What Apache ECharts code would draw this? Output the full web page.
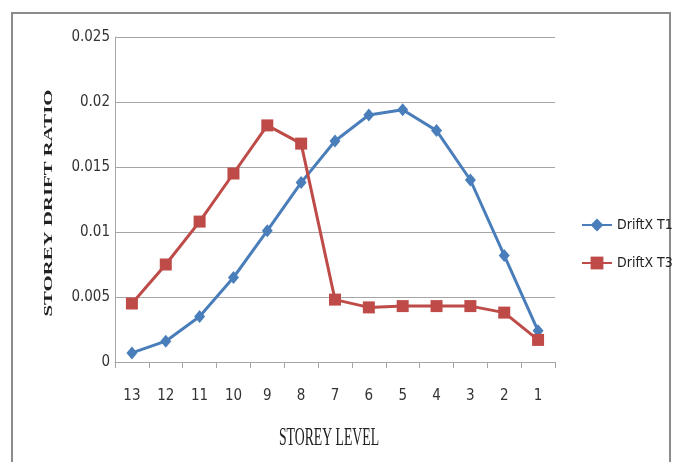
<!DOCTYPE html>
<html>
<head>
<meta charset="utf-8">
<script src="https://cdn.jsdelivr.net/npm/echarts@6/dist/echarts.min.js"></script>
<style>
  html, body { margin: 0; padding: 0; background: #fff; }
  #chart { width: 675px; height: 462px; }
</style>
</head>
<body>
<div id="chart"></div>
<script>
// Storey levels, top to bottom
const storeys = ['13', '12', '11', '10', '9', '8', '7', '6', '5', '4', '3', '2', '1'];
// Storey drift ratios per load case
const driftT1 = [0.0007, 0.0016, 0.0035, 0.0065, 0.0101, 0.0138, 0.0170, 0.0190, 0.0194, 0.0178, 0.0140, 0.0082, 0.0024];
const driftT3 = [0.0045, 0.0075, 0.0108, 0.0145, 0.0182, 0.0168, 0.0048, 0.0042, 0.0043, 0.0043, 0.0043, 0.0038, 0.0017];
const seriesNames = ['DriftX T1', 'DriftX T3'];
const xTitle = 'STOREY LEVEL';
const yTitle = 'STOREY DRIFT RATIO';

const chart = echarts.init(document.getElementById('chart'), null, { renderer: 'canvas' });
const tickFont = '"DejaVu Sans Condensed", "Liberation Sans Narrow", "Open Sans", sans-serif';
const titleFont = '"Liberation Serif", "DejaVu Serif", serif';

chart.setOption({
  animation: false,
  backgroundColor: '#ffffff',
  graphic: [
    {
      type: 'rect',
      shape: { x: 12, y: 13, width: 658, height: 470 },
      style: { fill: 'none', stroke: '#8c8c8c', lineWidth: 2 },
      silent: true
    },
    {
      // axis title under the storey labels, drawn narrow and tall
      type: 'text',
      x: 329, y: 438,
      scaleX: 0.55,
      style: {
        text: xTitle, font: '25px ' + titleFont, fill: '#222',
        align: 'center', verticalAlign: 'middle'
      },
      silent: true
    },
    {
      // vertical title for the drift ratio axis
      type: 'text',
      x: 49, y: 203,
      rotation: Math.PI / 2,
      scaleX: 1.6,
      style: {
        text: yTitle, font: 'bold 13px ' + titleFont, fill: '#222',
        align: 'center', verticalAlign: 'middle'
      },
      silent: true
    }
  ],
  grid: { left: 115, top: 37, width: 440, height: 325, containLabel: false },
  legend: {
    orient: 'vertical',
    left: 576,
    top: 213,
    itemGap: 24,
    itemWidth: 30,
    itemHeight: 16,
    textStyle: { fontFamily: tickFont, fontSize: 14, color: '#222' },
    data: seriesNames
  },
  xAxis: {
    type: 'category',
    data: storeys,
    boundaryGap: true,
    axisLine: { lineStyle: { color: '#a6a6a6', width: 1 } },
    axisTick: { show: true, alignWithLabel: false, length: 6, lineStyle: { color: '#a6a6a6' } },
    axisLabel: { fontFamily: tickFont, fontSize: 15, color: '#333', margin: 27 }
  },
  yAxis: {
    type: 'value',
    min: 0,
    max: 0.025,
    interval: 0.005,
    axisLine: { show: true, lineStyle: { color: '#a6a6a6', width: 1 } },
    axisTick: { show: false },
    splitLine: { lineStyle: { color: '#a6a6a6', width: 1 } },
    axisLabel: {
      fontFamily: tickFont, fontSize: 15, color: '#333', margin: 5,
      formatter: v => (v === 0 ? '0' : String(+v.toFixed(3)))
    }
  },
  series: [
    {
      name: seriesNames[0],
      type: 'line',
      data: driftT1,
      symbol: 'diamond',
      symbolSize: [11, 13],
      color: '#4a7ebb',
      lineStyle: { width: 3, color: '#4a7ebb' },
      itemStyle: { color: '#4a7ebb' }
    },
    {
      name: seriesNames[1],
      type: 'line',
      data: driftT3,
      symbol: 'rect',
      symbolSize: 12,
      color: '#be4b48',
      lineStyle: { width: 3, color: '#be4b48' },
      itemStyle: { color: '#be4b48' }
    }
  ]
});
</script>
</body>
</html>
